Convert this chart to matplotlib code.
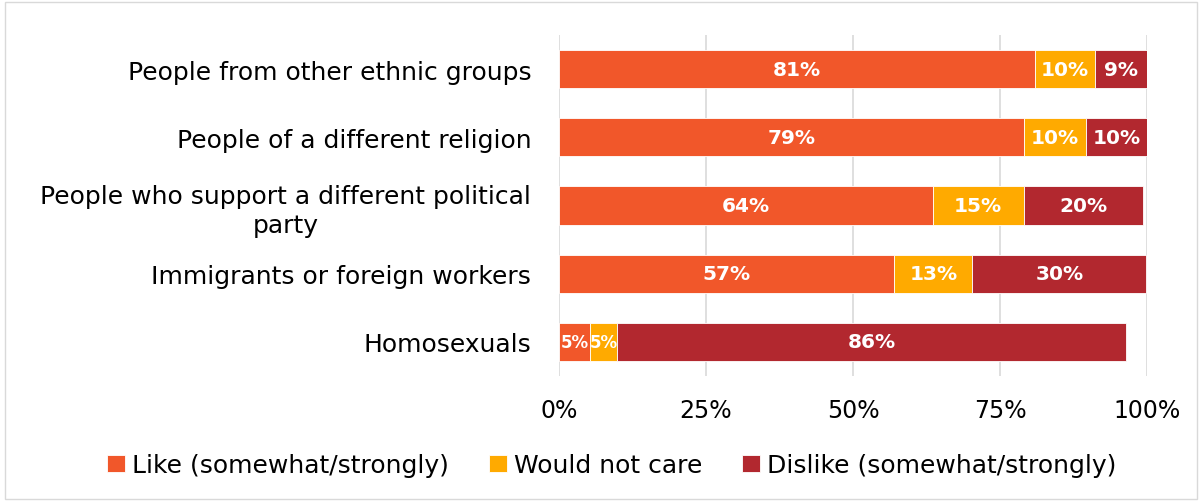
import matplotlib.pyplot as plt
from matplotlib.patches import Rectangle

plt.rcParams['font.family'] = ['DejaVu Sans']

# Data
groups = ["People from other ethnic groups", "People of a different religion",
          "People who support a different political\nparty", "Immigrants or foreign workers",
          "Homosexuals"]
like = [80.9, 79.1, 63.6, 57.0, 5.3]
not_care = [10.2, 10.5, 15.4, 13.3, 4.6]
dislike = [8.9, 10.4, 20.4, 29.6, 86.5]
series_names = ["Like (somewhat/strongly)", "Would not care", "Dislike (somewhat/strongly)"]
colors = ["#F1572A", "#FFAA00", "#B2282F"]

fig = plt.figure(figsize=(12.02, 5.02), dpi=100)
ax = fig.add_axes([559 / 1202, 1 - 377 / 502, 588 / 1202, 341 / 502])

ypos = list(range(len(groups)))
left = [0] * len(groups)
for name, vals, c in zip(series_names, [like, not_care, dislike], colors):
    ax.barh(ypos, vals, left=left, height=0.56, color=c, label=name,
            edgecolor='white', linewidth=0.6, zorder=3)
    for y, v, l in zip(ypos, vals, left):
        # narrow segments get a slightly smaller label so neighbours don't collide
        fs = 12 if v < 7 else 14.5
        ax.text(l + v / 2, y, f"{round(v):.0f}%", ha='center', va='center',
                color='white', fontsize=fs, fontweight='bold', zorder=4)
    left = [a + b for a, b in zip(left, vals)]

ax.set_xlim(0, 100)
ax.set_ylim(4.5, -0.5)
ax.set_yticks(ypos)
ax.set_yticklabels(groups, fontsize=18, multialignment='center', linespacing=1.25)
ax.set_xticks([0, 25, 50, 75, 100])
ax.set_xticklabels(["0%", "25%", "50%", "75%", "100%"], fontsize=17)
ax.tick_params(length=0)
ax.tick_params(axis='y', pad=20)
ax.tick_params(axis='x', pad=16)
ax.grid(axis='x', color='#D9D9D9', linewidth=1.2, zorder=0)
for s in ax.spines.values():
    s.set_visible(False)

ax.legend(loc='center', bbox_to_anchor=(612 / 1202, 1 - 466 / 502), bbox_transform=fig.transFigure,
          ncol=3, frameon=False, fontsize=18, handlelength=0.7, handleheight=0.7,
          handletextpad=0.3, columnspacing=1.6)

fig.patches.append(Rectangle((5 / 1202, 2 / 502), 1192 / 1202, 497 / 502, transform=fig.transFigure,
                             fill=False, edgecolor='#D9D9D9', linewidth=1))

fig.savefig("out.png", dpi=100)
